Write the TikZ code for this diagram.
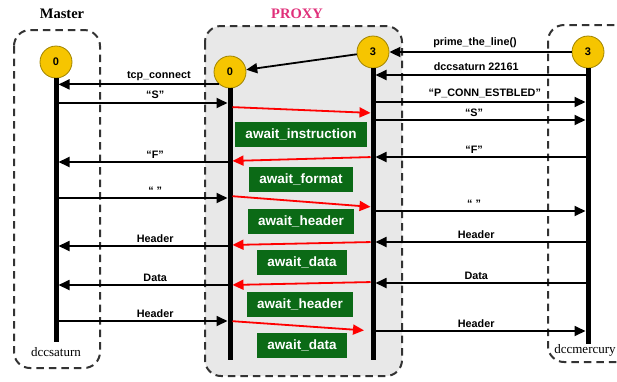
\documentclass[tikz,border=0pt]{standalone}
\usepackage{fontspec}
\setmainfont{Liberation Serif}
\newfontfamily\lsans{Liberation Sans}
\usetikzlibrary{arrows.meta}
\definecolor{boxgreen}{HTML}{0B6A16}
\definecolor{circfill}{HTML}{F6C500}
\definecolor{circline}{HTML}{A08400}
\definecolor{proxyfill}{HTML}{E8E8E8}
\definecolor{proxypink}{HTML}{E0307A}
\definecolor{dashgray}{HTML}{333333}
\newcommand\Msg[5]{\draw[msg] (#1 |- 0,#3) -- node[lbl,above=2pt,pos=#5]{#4} (#2 |- 0,#3);}
\newcommand\Ctl[4]{\draw[ctrl] (#1 |- 0,#2) -- (#3 |- 0,#4);}
\begin{document}
\begin{tikzpicture}[x=1pt,y=-1pt,
  frame/.style={draw=dashgray,line width=2pt,dash pattern=on 7.5pt off 5pt,rounded corners=16pt},
  state/.style={circle,fill=circfill,draw=circline,line width=0.8pt,minimum size=32pt,inner sep=0pt,font=\lsans\bfseries\fontsize{11}{12}\selectfont},
  life/.style={line width=5pt},
  msg/.style={line width=1.8pt,-{Triangle[length=11pt,width=10pt]},shorten >=2.5pt},
  ctrl/.style={red,line width=1.8pt,-{Triangle[length=11pt,width=10pt]},shorten <=2.5pt,shorten >=2.5pt},
  lbl/.style={font=\lsans\bfseries\fontsize{10.8}{12}\selectfont,inner sep=1pt},
  wait/.style={fill=boxgreen,text=white,font=\lsans\bfseries\fontsize{13.5}{15}\selectfont,minimum height=25pt,inner xsep=10pt,inner ysep=0pt},
  title/.style={font=\bfseries\fontsize{14.5}{16}\selectfont},
  host/.style={font=\fontsize{13}{15}\selectfont}]
\useasboundingbox (0,0) rectangle (617,381);
\clip (0,0) rectangle (617,381);
% frames
\draw[frame] (14,30) rectangle (100,368);
\draw[frame,fill=proxyfill] (205,26) rectangle (402,376);
\draw[frame] (548,25) rectangle (650,362);
% titles
\node[title] (tmaster) at (62,14) {Master};
\node[title,proxypink] (tproxy) at (297,14) {PROXY};
\node[host] (hsat) at (56,352) {dccsaturn};
\node[host] (hmer) at (585,350) {dccmercury};
% states
\node[state] (m0) at (56,62) {0};
\node[state] (p0) at (230,72) {0};
\node[state] (p3) at (373,52) {3};
\node[state] (c3) at (588,52) {3};
\coordinate (mEnd) at (56,342);
\coordinate (p0End) at (230,360);
\coordinate (p3End) at (373,360);
\coordinate (cEnd) at (588,344);
% lifelines
\draw[life] (m0.south) -- (mEnd);
\draw[life] (p0.south) -- (p0End);
\draw[life] (p3.south) -- (p3End);
\draw[life] (c3.south) -- (cEnd);
% wait states
\node[wait] (w1) at (301,134.5) {await\_instruction};
\node[wait] (w2) at (301,179) {await\_format};
\node[wait] (w3) at (301,221) {await\_header};
\node[wait] (w4) at (302,262.5) {await\_data};
\node[wait] (w5) at (300,304) {await\_header};
\node[wait] (w6) at (302,345) {await\_data};
% messages, master side
\draw[msg] (p0.229) -- node[lbl,above=2pt,pos=0.37]{tcp\_connect} (m0 |- p0.229);
\Msg{m0}{p0}{103}{“S”}{0.57}
\Msg{p0}{m0}{162}{“F”}{0.43}
\Msg{m0}{p0}{198}{“ ”}{0.57}
\Msg{p0}{m0}{246}{Header}{0.43}
\Msg{p0}{m0}{285}{Data}{0.43}
\Msg{m0}{p0}{321}{Header}{0.57}
% messages, mercury side
\draw[msg,shorten >=0pt] (c3) -- node[lbl,above=2pt,pos=0.53]{prime\_the\_line()} (p3);
\draw[msg,shorten >=0pt] (p3) -- (p0);
\Msg{c3}{p3}{75}{dccsaturn 22161}{0.52}
\Msg{p3}{c3}{102}{“P\_CONN\_ESTBLED”}{0.52}
\Msg{p3}{c3}{120}{“S”}{0.47}
\Msg{c3}{p3}{157}{“F”}{0.53}
\Msg{p3}{c3}{211}{“ ”}{0.47}
\Msg{c3}{p3}{242}{Header}{0.52}
\Msg{c3}{p3}{283}{Data}{0.52}
\Msg{p3}{c3}{331}{Header}{0.48}
% internal transitions
\Ctl{p0}{107}{p3}{113}
\Ctl{p3}{157}{p0}{161}
\Ctl{p0}{196}{p3}{207}
\Ctl{p3}{242}{p0}{245}
\Ctl{p3}{282}{p0}{285}
\draw[ctrl,shorten >=9pt] (p0 |- 0,321) -- (p3 |- 0,331);
\end{tikzpicture}
\end{document}
